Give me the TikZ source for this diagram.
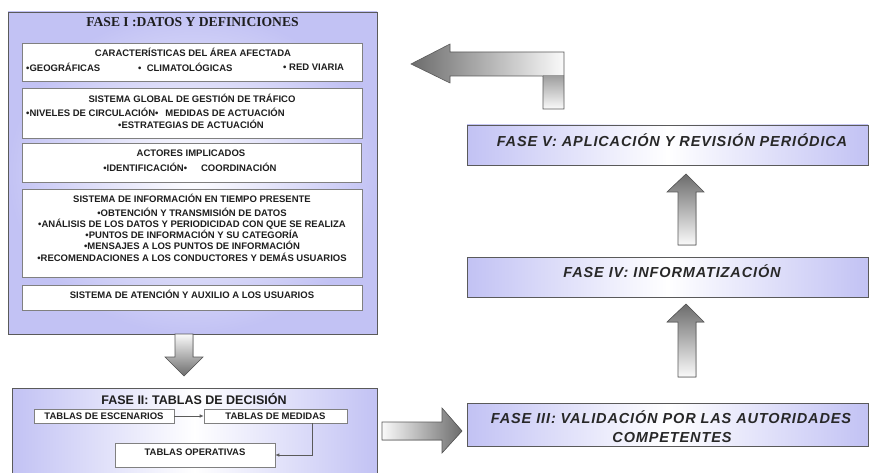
\documentclass[tikz,border=0pt]{standalone}
\usepackage{fontspec}
\setmainfont{Liberation Serif}
\setsansfont{Liberation Sans}
\usetikzlibrary{arrows.meta,shadows,calc}
\definecolor{lav}{RGB}{194,194,244}
\definecolor{txt}{RGB}{30,30,30}
\definecolor{arrdark}{RGB}{108,108,108}
\definecolor{arrlight}{RGB}{250,250,250}
\definecolor{edge}{RGB}{90,90,90}
\begin{document}
\begin{tikzpicture}[x=1pt,y=-1pt,
  phasebox/.style={draw=edge, line width=0.8pt, left color=lav, right color=lav, middle color=white,
    drop shadow={shadow xshift=1pt,shadow yshift=-1.2pt,opacity=0.35}, inner sep=0},
  bigbox/.style={draw=edge, line width=0.8pt, inner color=white, outer color=lav,
    drop shadow={shadow xshift=1pt,shadow yshift=-1.2pt,opacity=0.35}, inner sep=0},
  subbox/.style={draw=gray, line width=0.6pt, fill=white,
    drop shadow={shadow xshift=0.8pt,shadow yshift=-0.8pt,opacity=0.3}, inner sep=0},
  subtxt/.style={font=\sffamily\bfseries\fontsize{9.5}{11.3}\selectfont, text=txt, inner sep=0, align=center},
  rtitle/.style={font=\sffamily\bfseries\itshape\fontsize{14.5}{20}\selectfont\addfontfeature{LetterSpace=6}, text={rgb,255:red,40;green,40;blue,40}, inner sep=0, anchor=base},
  blockarr/.style={draw=edge, line width=0.6pt},
  thinarr/.style={draw=edge, line width=0.7pt, -{Latex[length=4pt,width=3.5pt]}},
]
\useasboundingbox (0,0) rectangle (870,473);
\fill[white] (0,0) rectangle (870,473);

% ---------- FASE I ----------
\node[bigbox, minimum width=369pt, minimum height=322pt] (f1) at (192.5,173) {};
\node[font=\rmfamily\bfseries\fontsize{13.6}{15}\selectfont, text=txt, inner sep=0] (t1) at (192.5,22) {FASE I :DATOS Y DEFINICIONES};

\node[subbox, minimum width=340pt, minimum height=38pt] (b1) at (192,62) {};
\node[subtxt] (b1t) at (193,52) {CARACTERÍSTICAS DEL ÁREA AFECTADA};
\node[subtxt, anchor=west] (b1a) at (26,67) {•GEOGRÁFICAS};
\node[subtxt, anchor=west] (b1b) at (138,67) {•\ \ CLIMATOLÓGICAS};
\node[subtxt, anchor=west] (b1c) at (283,67) {•\ RED VIARIA};

\node[subbox, minimum width=340pt, minimum height=50pt] (b2) at (192,113) {};
\node[subtxt] (b2t) at (192,98) {SISTEMA GLOBAL DE GESTIÓN DE TRÁFICO};
\node[subtxt, anchor=west] (b2a) at (26,112) {•NIVELES DE CIRCULACIÓN•\hspace{7pt}MEDIDAS DE ACTUACIÓN};
\node[subtxt, anchor=west] (b2b) at (118,124) {•ESTRATEGIAS DE ACTUACIÓN};

\node[subbox, minimum width=339pt, minimum height=39pt] (b3) at (191.5,162.5) {};
\node[subtxt] (b3t) at (191,153) {ACTORES IMPLICADOS};
\node[subtxt] (b3a) at (190,167) {•IDENTIFICACIÓN•\hspace{14pt}COORDINACIÓN};

\node[subbox, minimum width=340pt, minimum height=88pt] (b4) at (192,233) {};
\node[subtxt] (b4t) at (192,198) {SISTEMA DE INFORMACIÓN EN TIEMPO PRESENTE};
\node[subtxt] (b4a) at (192,234.5) {•OBTENCIÓN Y TRANSMISIÓN DE DATOS\\
•ANÁLISIS DE LOS DATOS Y PERIODICIDAD CON QUE SE REALIZA\\
•PUNTOS DE INFORMACIÓN Y SU CATEGORÍA\\
•MENSAJES A LOS PUNTOS DE INFORMACIÓN\\
•RECOMENDACIONES A LOS CONDUCTORES Y DEMÁS USUARIOS};

\node[subbox, minimum width=340pt, minimum height=25pt] (b5) at (192,298) {};
\node[subtxt] (b5t) at (192,294) {SISTEMA DE ATENCIÓN Y AUXILIO A LOS USUARIOS};

% ---------- FASE II ----------
\node[phasebox, minimum width=365pt, minimum height=92pt] (f2) at (194.5,434) {};
\node[font=\sffamily\bfseries\fontsize{12.5}{14}\selectfont, text=txt, inner sep=0] (t2) at (194,399) {FASE II: TABLAS DE DECISIÓN};
\node[subbox, subtxt, minimum width=140pt, minimum height=14pt] (esc) at (104,416) {TABLAS DE ESCENARIOS};
\node[subbox, subtxt, minimum width=143pt, minimum height=14pt] (med) at (275.5,416) {TABLAS DE MEDIDAS};
\node[subbox, minimum width=160pt, minimum height=24pt] (ope) at (195,455) {};
\node[subtxt] (opet) at (195,452) {TABLAS OPERATIVAS};
\draw[thinarr] (esc.east) -- (med.west);
\draw[thinarr] ([xshift=36.5pt]med.south) |- (ope.east);

% ---------- FASES III, IV, V ----------
\node[phasebox, minimum width=401pt, minimum height=40pt] (f5) at (667.5,145) {};
\node[rtitle] (f5t) at (672,147) {FASE V: APLICACIÓN Y REVISIÓN PERIÓDICA};
\node[phasebox, minimum width=401pt, minimum height=40pt] (f4) at (667.5,277) {};
\node[rtitle] (f4t) at (672,277) {FASE IV: INFORMATIZACIÓN};
\node[phasebox, minimum width=401pt, minimum height=43pt] (f3) at (667.5,424.5) {};
\node[rtitle] (f3t) at (671,423) {FASE III: VALIDACIÓN POR LAS AUTORIDADES};
\node[rtitle] (f3u) at (672,442.5) {COMPETENTES};

% ---------- block arrows ----------
% I -> II
\filldraw[blockarr, top color=arrlight, bottom color=arrdark]
  (175,334) -- (193,334) -- (193,357) -- (203,357) -- (184,376) -- (165,357) -- (175,357) -- cycle;
% II -> III
\filldraw[blockarr, left color=arrlight, right color=arrdark]
  (382,422) -- (442,422) -- (442,408) -- (462,431) -- (442,453) -- (442,440) -- (382,440) -- cycle;
% III -> IV
\filldraw[blockarr, top color=arrdark, bottom color=arrlight]
  (678,377) -- (678,322) -- (667,322) -- (686,304) -- (704,322) -- (696,322) -- (696,377) -- cycle;
% IV -> V
\filldraw[blockarr, top color=arrdark, bottom color=arrlight]
  (678,245) -- (678,192) -- (667,192) -- (686,174) -- (704,192) -- (696,192) -- (696,245) -- cycle;
% V -> I (bent)
\shade[left color=arrdark, right color=arrlight]
  (411,64) -- (450,44) -- (450,52) -- (564,52) -- (564,109) -- (543,109) -- (543,76) -- (450,76) -- (450,83) -- cycle;
\shade[top color=gray!75, bottom color=arrlight] (543,76) rectangle (564,109);
\draw[blockarr]
  (411,64) -- (450,44) -- (450,52) -- (564,52) -- (564,109) -- (543,109) -- (543,76) -- (450,76) -- (450,83) -- cycle;
\end{tikzpicture}
\end{document}
